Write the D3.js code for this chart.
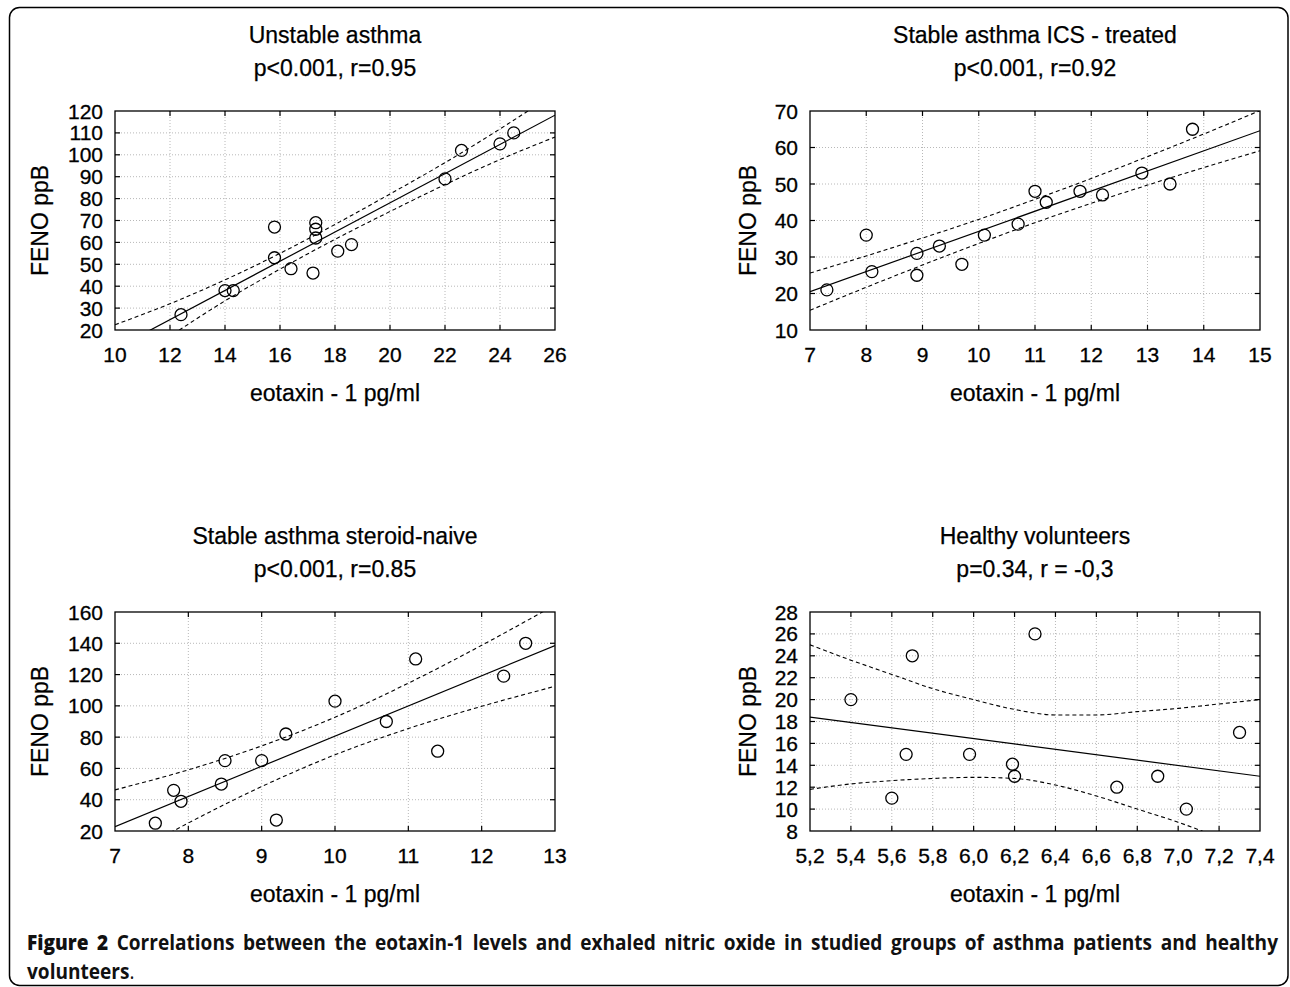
<!DOCTYPE html>
<html><head><meta charset="utf-8">
<script src="https://cdn.jsdelivr.net/npm/d3@7"></script>
<style>
body{margin:0;background:#fff;}
svg{display:block;}
</style></head><body>
<svg id="c" width="1290" height="987"></svg>
<script>
// ---------- DATA ----------
const panelTitles = ["Unstable asthma", "Stable asthma ICS - treated", "Stable asthma steroid-naive", "Healthy volunteers"];
const panelStats  = ["p<0.001, r=0.95", "p<0.001, r=0.92", "p<0.001, r=0.85", "p=0.34, r = -0,3"];
const yAxisTitle = "FENO ppB";
const xAxisTitle = "eotaxin - 1 pg/ml";

// Unstable asthma
const unstableX = [12.4,14.0,14.3,15.8,15.8,16.4,17.2,17.3,17.3,17.3,18.1,18.6,22.0,22.6,24.0,24.5];
const unstableY = [27,38,38,67,53,48,46,69,66,62,56,59,89,102,105,110];
const unstableXTicks = [10,12,14,16,18,20,22,24,26];
const unstableYTicks = [20,30,40,50,60,70,80,90,100,110,120];
const unstableFitX = [10,26];
const unstableFitY = [11.4,118.1];
const unstableBandX = [10,12,14,16,18,20,22,24,26];
const unstableUpper = [22.4,32.0,42.9,55.0,68.2,82.1,96.4,111.8,128.1];
const unstableLower = [0.4,17.2,33.3,47.8,61.4,74.1,86.4,97.8,108.1];

// Stable asthma ICS - treated
const icsX = [7.3,8.0,8.1,8.9,8.9,9.3,9.7,10.1,10.7,11.0,11.2,11.8,12.2,12.9,13.4,13.8];
const icsY = [21,36,26,31,25,33,28,36,39,48,45,48,47,53,50,65];
const icsXTicks = [7,8,9,10,11,12,13,14,15];
const icsYTicks = [10,20,30,40,50,60,70];
const icsFitX = [7,15];
const icsFitY = [20.5,64.6];
const icsBandX = [7,8,9,10,11,12,13,14,15];
const icsUpper = [25.6,30.3,35.2,40.3,45.8,51.5,57.5,63.7,70.1];
const icsLower = [15.4,21.7,27.8,33.7,39.4,44.7,49.7,54.5,59.1];

// Stable asthma steroid-naive
const naiveX = [7.55,7.8,7.9,8.45,8.5,9.0,9.2,9.33,10.0,10.7,11.1,11.4,12.3,12.6];
const naiveY = [25,46,39,50,65,65,27,82,103,90,130,71,119,140];
const naiveXTicks = [7,8,9,10,11,12,13];
const naiveYTicks = [20,40,60,80,100,120,140,160];
const naiveFitX = [7,13];
const naiveFitY = [22.8,138.5];
const naiveBandX = [7,8,9,10,11,12,13];
const naiveUpper = [46.3,59.1,74.4,92.7,114.5,138.7,164.5];
const naiveLower = [-0.7,25.1,48.4,68.7,85.5,99.7,112.5];

// Healthy volunteers
const healthyX = [5.4,5.6,5.67,5.7,5.98,6.19,6.2,6.3,6.7,6.9,7.04,7.3];
const healthyY = [20,11,15,24,15,14.1,13,26,12,13,10,17];
const healthyXTicks = [5.2,5.4,5.6,5.8,6.0,6.2,6.4,6.6,6.8,7.0,7.2,7.4];
const healthyXTickLabels = ["5,2","5,4","5,6","5,8","6,0","6,2","6,4","6,6","6,8","7,0","7,2","7,4"];
const healthyYTicks = [8,10,12,14,16,18,20,22,24,26,28];
const healthyFitX = [5.2,7.4];
const healthyFitY = [18.4,13.0];
const healthyBandX = [5.2,5.4,5.6,5.8,6.0,6.2,6.4,6.6,6.8,7.0,7.2,7.4];
const healthyUpper = [25.0,23.6,22.3,21.0,20.0,19.1,18.6,18.6,18.9,19.2,19.6,20.0];
const healthyLower = [11.8,12.3,12.6,12.8,12.9,12.8,12.2,11.2,10.0,8.8,7.4,6.0];

const captionBold = ["Figure", "2"];
const captionLine1 = "Correlations between the eotaxin-1 levels and exhaled nitric oxide in studied groups of asthma patients and healthy";
const captionLine2 = "volunteers";

// ---------- LAYOUT ----------
const svg = d3.select("#c");
const FONT = "'Liberation Sans', Arial, sans-serif";

svg.append("rect").attr("x",9.5).attr("y",7.5).attr("width",1278.5).attr("height",978)
  .attr("rx",10).attr("fill","none").attr("stroke","#000").attr("stroke-width",1.5);

const panels = [
  {box:{l:115,r:555,t:111,b:330}, ylab:40,  xs:unstableX, ys:unstableY, xt:unstableXTicks, yt:unstableYTicks, xl:null,
   fx:unstableFitX, fy:unstableFitY, bx:unstableBandX, up:unstableUpper, lo:unstableLower},
  {box:{l:810,r:1260,t:111,b:330}, ylab:748, xs:icsX, ys:icsY, xt:icsXTicks, yt:icsYTicks, xl:null,
   fx:icsFitX, fy:icsFitY, bx:icsBandX, up:icsUpper, lo:icsLower},
  {box:{l:115,r:555,t:612,b:831}, ylab:40,  xs:naiveX, ys:naiveY, xt:naiveXTicks, yt:naiveYTicks, xl:null,
   fx:naiveFitX, fy:naiveFitY, bx:naiveBandX, up:naiveUpper, lo:naiveLower},
  {box:{l:810,r:1260,t:612,b:831}, ylab:748, xs:healthyX, ys:healthyY, xt:healthyXTicks, yt:healthyYTicks, xl:healthyXTickLabels,
   fx:healthyFitX, fy:healthyFitY, bx:healthyBandX, up:healthyUpper, lo:healthyLower}
];

panels.forEach((p,i)=>{
  const {l,r,t,b} = p.box;
  const x = d3.scaleLinear().domain(d3.extent(p.xt)).range([l,r]);
  const y = d3.scaleLinear().domain(d3.extent(p.yt)).range([b,t]);
  const g = svg.append("g");
  const cid = "clip"+i;
  svg.append("clipPath").attr("id",cid).append("rect").attr("x",l).attr("y",t).attr("width",r-l).attr("height",b-t);

  // grid
  const grid = g.append("g").attr("stroke","#b8b8b8").attr("stroke-width",1).attr("stroke-dasharray","1,2");
  p.xt.slice(1,-1).forEach(v=>grid.append("line").attr("x1",x(v)).attr("x2",x(v)).attr("y1",t).attr("y2",b));
  p.yt.slice(1,-1).forEach(v=>grid.append("line").attr("x1",l).attr("x2",r).attr("y1",y(v)).attr("y2",y(v)));

  const cg = g.append("g").attr("clip-path",`url(#${cid})`);
  const band = d3.line().x(d=>x(d[0])).y(d=>y(d[1])).curve(d3.curveMonotoneX);
  [p.up,p.lo].forEach(arr=>{
    cg.append("path").attr("d",band(p.bx.map((v,k)=>[v,arr[k]])))
      .attr("fill","none").attr("stroke","#000").attr("stroke-width",1.1).attr("stroke-dasharray","4,3");
  });
  cg.append("path").attr("d",d3.line().x(d=>x(d[0])).y(d=>y(d[1]))(p.fx.map((v,k)=>[v,p.fy[k]])))
    .attr("fill","none").attr("stroke","#000").attr("stroke-width",1.2);

  // points
  g.selectAll(null).data(p.xs.map((v,k)=>[v,p.ys[k]])).enter().append("circle")
    .attr("cx",d=>x(d[0])).attr("cy",d=>y(d[1])).attr("r",6)
    .attr("fill","none").attr("stroke","#000").attr("stroke-width",1.3);

  // frame
  g.append("rect").attr("x",l).attr("y",t).attr("width",r-l).attr("height",b-t)
    .attr("fill","none").attr("stroke","#000").attr("stroke-width",1.3);

  // inward ticks on all sides
  const tk = g.append("g").attr("stroke","#000").attr("stroke-width",1.2);
  p.xt.slice(1,-1).forEach(v=>{
    tk.append("line").attr("x1",x(v)).attr("x2",x(v)).attr("y1",b).attr("y2",b-5);
    tk.append("line").attr("x1",x(v)).attr("x2",x(v)).attr("y1",t).attr("y2",t+5);
  });
  p.yt.slice(1,-1).forEach(v=>{
    tk.append("line").attr("x1",l).attr("x2",l+5).attr("y1",y(v)).attr("y2",y(v));
    tk.append("line").attr("x1",r).attr("x2",r-5).attr("y1",y(v)).attr("y2",y(v));
  });

  // tick labels
  const tl = g.append("g").attr("font-family",FONT).attr("font-size",21).attr("fill","#000")
    .attr("stroke","#000").attr("stroke-width",0.3);
  p.xt.forEach((v,k)=>tl.append("text").attr("x",x(v)).attr("y",b+32).attr("text-anchor","middle")
    .text(p.xl ? p.xl[k] : String(v)));
  p.yt.forEach(v=>tl.append("text").attr("x",l-12).attr("y",y(v)).attr("dy","0.36em").attr("text-anchor","end").text(String(v)));

  // titles
  const cx = (l+r)/2;
  const tt = g.append("g").attr("font-family",FONT).attr("font-size",23).attr("fill","#000")
    .attr("stroke","#000").attr("stroke-width",0.25).attr("text-anchor","middle");
  tt.append("text").attr("x",cx).attr("y",t-68).text(panelTitles[i]);
  tt.append("text").attr("x",cx).attr("y",t-35).text(panelStats[i]);
  tt.append("text").attr("x",cx).attr("y",b+71).text(xAxisTitle);
  tt.append("text").attr("transform",`translate(${p.ylab},${(t+b)/2}) rotate(-90)`).attr("dy","0.36em").text(yAxisTitle);
});

// ---------- CAPTION ----------
const CAPF = "'Open Sans', 'Noto Sans', sans-serif";
const capL = 27, capR = 1278, wordGap = 8.5;
const words = captionBold.map(w=>({w,fw:800})).concat(captionLine1.split(" ").map(w=>({w,fw:700})));
const cap = svg.append("g").attr("font-family",CAPF).attr("font-size",21).attr("fill","#111");
const nodes = words.map(o=>cap.append("text").attr("y",950).attr("font-weight",o.fw).text(o.w));
const widths = nodes.map(n=>n.node().getComputedTextLength());
const total = d3.sum(widths);
const targetWords = (capR-capL) - wordGap*(nodes.length-1);
const sx = targetWords/total;
const gap = wordGap/sx;
let cxp = 0;
nodes.forEach((n,k)=>{ n.attr("x",cxp); cxp += widths[k]+gap; });
const l2 = cap.append("text").attr("x",0).attr("y",979);
l2.append("tspan").attr("font-weight",700).text(captionLine2);
l2.append("tspan").attr("font-weight",400).text(".");
cap.attr("transform",`translate(${capL},0) scale(${sx},1)`);
</script></body></html>
